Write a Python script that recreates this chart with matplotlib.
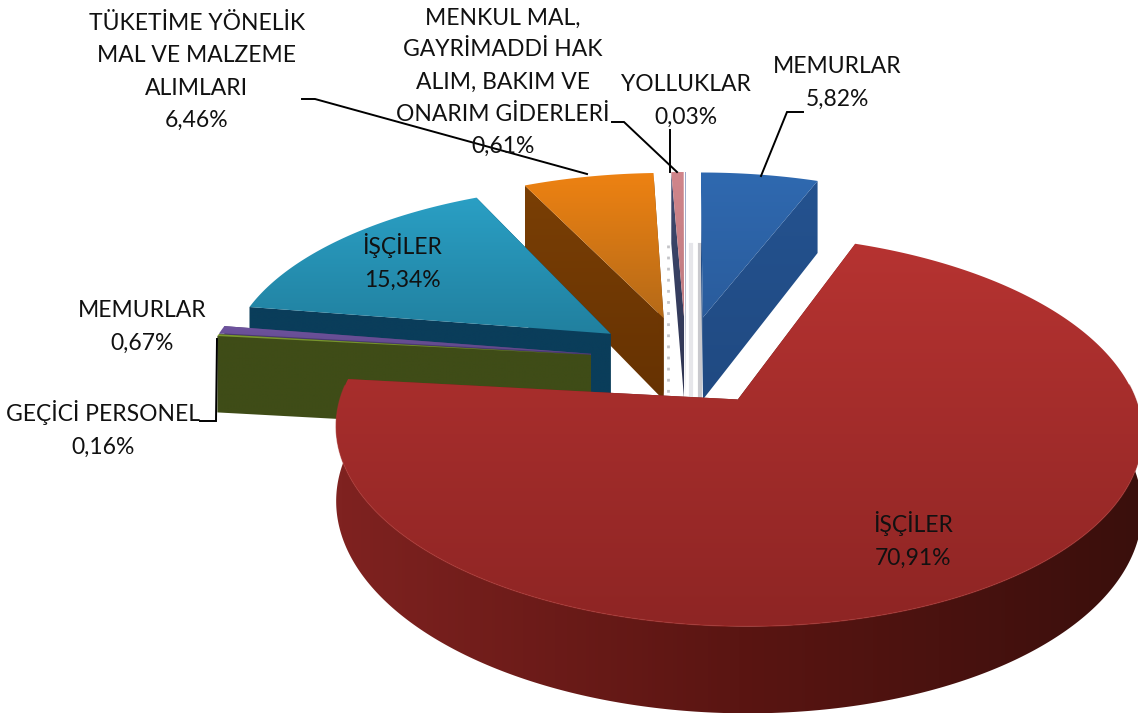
import numpy as np
import matplotlib
matplotlib.use("Agg")
import matplotlib.pyplot as plt
from matplotlib.colors import LinearSegmentedColormap
from matplotlib.patches import Polygon

plt.rcParams["font.family"] = ["Lato", "DejaVu Sans"]

# clockwise from 12 o'clock
names = ["MEMURLAR", "İŞÇİLER", "GEÇİCİ PERSONEL", "MEMURLAR", "İŞÇİLER",
         "TÜKETİME YÖNELİK\nMAL VE MALZEME\nALIMLARI",
         "MENKUL MAL,\nGAYRİMADDİ HAK\nALIM, BAKIM VE\nONARIM GİDERLERİ",
         "YOLLUKLAR"]
values = [5.82, 70.91, 0.16, 0.67, 15.34, 6.46, 0.61, 0.03]
value_labels = ["5,82%", "70,91%", "0,16%", "0,67%", "15,34%", "6,46%", "0,61%", "0,03%"]

top_colors = [("#2F69B0", "#2A5C9C"), ("#B63331", "#8E2524"), ("#7C9A30", "#6F8A2A"),
              ("#6E539E", "#5F4888"), ("#2A9FC4", "#21809F"), ("#EE8212", "#B56A18"),
              ("#D0858B", "#C07A80"), ("#5A6FA8", "#5A6FA8")]
side_colors = [("#24528F", "#204A82"), ("#7F2220", "#5A1512", "#3A0F0C"), ("#3F4C17", "#3F4C17"),
               ("#4A3A70", "#4A3A70"), ("#0A3D5A", "#0A3D5A"), ("#7A3F05", "#663202"),
               ("#3F4A70", "#2E3350"), ("#3F4A70", "#3F4A70")]

# projection of the tilted pie onto the page
X0, Y0 = 686, 360
FX, FY = 385, 179
PERSP = 0.152
EXPLODE = 0.25


def project(x, y, drop=0.0):
    s = 1 / (1 + PERSP * y)
    return X0 + FX * x * s, Y0 - FY * y * s + drop * s


def wedge(a0, a1):
    mid = (a0 + a1) / 2
    ox, oy = EXPLODE * np.sin(mid), EXPLODE * np.cos(mid)
    t = np.linspace(a0, a1, max(2, int((a1 - a0) * 80)))
    return ox, oy, t, ox + np.sin(t), oy + np.cos(t)


def fill_grad(ax, pts, colors, horizontal=False, zorder=1):
    pts = np.asarray(pts)
    xa, xb, ya, yb = pts[:, 0].min(), pts[:, 0].max(), pts[:, 1].min(), pts[:, 1].max()
    if xb - xa < 0.5:
        xb = xa + 0.5
    if yb - ya < 0.5:
        yb = ya + 0.5
    cmap = LinearSegmentedColormap.from_list("g", colors)
    ramp = np.linspace(0, 1, 128)
    img = ramp[None, :] if horizontal else ramp[:, None]
    im = ax.imshow(img, cmap=cmap, extent=(xa, xb, yb, ya), aspect="auto", zorder=zorder,
                   interpolation="bilinear")
    clip = Polygon(pts, closed=True, transform=ax.transData, facecolor="none", edgecolor="none")
    ax.add_patch(clip)
    im.set_clip_path(clip)


fig = plt.figure(figsize=(11.38, 7.15), dpi=100)
ax = fig.add_axes([0, 0, 1, 1])

edges = np.cumsum([0] + values) / sum(values) * 2 * np.pi
depths = [85, 71, 78, 78, 85, 85, 85, 85]
draw_order = [0, 7, 6, 5, 4, 3, 2, 1]

# soft shadows between the thin slices
ax.plot([700, 700], [245, 396], color="#C9C9CE", lw=3, zorder=1)
ax.plot([691, 691], [245, 396], color="#E6E6EA", lw=3, zorder=1)
ax.plot([668, 668], [245, 396], color="#C4C4C8", lw=2, ls=(0, (1, 3)), zorder=1)

z = 2
for i in draw_order:
    ox, oy, t, xs, ys = wedge(edges[i], edges[i + 1])
    d = depths[i]
    ax0, ay0 = project(ox, oy)
    bx0, by0 = project(ox, oy, d)
    px, py = project(xs, ys)
    qx, qy = project(xs, ys, d)
    # radial walls
    for k in (0, -1):
        wall = [(ax0, ay0), (px[k], py[k]), (qx[k], qy[k]), (bx0, by0)]
        fill_grad(ax, wall, side_colors[i], zorder=z)
    # outer wall, front half only
    front = np.cos(t) < 0.08
    if front.any():
        wall = list(zip(px[front], py[front])) + list(zip(qx[front][::-1], qy[front][::-1]))
        fill_grad(ax, wall, side_colors[i], horizontal=True, zorder=z + 0.1)
    # top face
    top = [(ax0, ay0)] + list(zip(px, py))
    fill_grad(ax, top, top_colors[i], zorder=z + 0.2)
    if i == 1:
        ax.plot(px[front], py[front], color="#A8322F", lw=1.0, alpha=0.6, zorder=z + 0.3)
    z += 1

# labels
text_kw = dict(ha="center", va="center", fontsize=16.5, color="#111111", zorder=30, linespacing=1.65)
ax.text(837, 83, names[0] + "\n" + value_labels[0], **text_kw)
ax.text(913, 540, names[1] + "\n" + value_labels[1], **text_kw)
ax.text(103, 429, names[2] + "\n" + value_labels[2], **text_kw)
ax.text(142, 327, names[3] + "\n" + value_labels[3], **text_kw)
ax.text(402, 262, names[4] + "\n" + value_labels[4], **text_kw)
ax.text(197, 72, names[5] + "\n" + value_labels[5], **text_kw)
ax.text(503, 82, names[6] + "\n" + value_labels[6], **text_kw)
ax.text(686, 101, names[7] + "\n" + value_labels[7], **text_kw)

# leader lines
line_kw = dict(color="black", lw=1.4, zorder=29, solid_joinstyle="miter")
ax.plot([803, 787, 761], [112, 112, 176], **line_kw)
ax.plot([302, 315, 587], [99, 99, 174], **line_kw)
ax.plot([612, 624, 677], [122, 122, 172], **line_kw)
ax.plot([670, 670], [130, 172], **line_kw)
ax.plot([200, 216, 217], [421, 421, 339], **line_kw)

ax.set_xlim(0, 1138)
ax.set_ylim(715, 0)
ax.axis("off")

fig.savefig("out.png", dpi=100)
